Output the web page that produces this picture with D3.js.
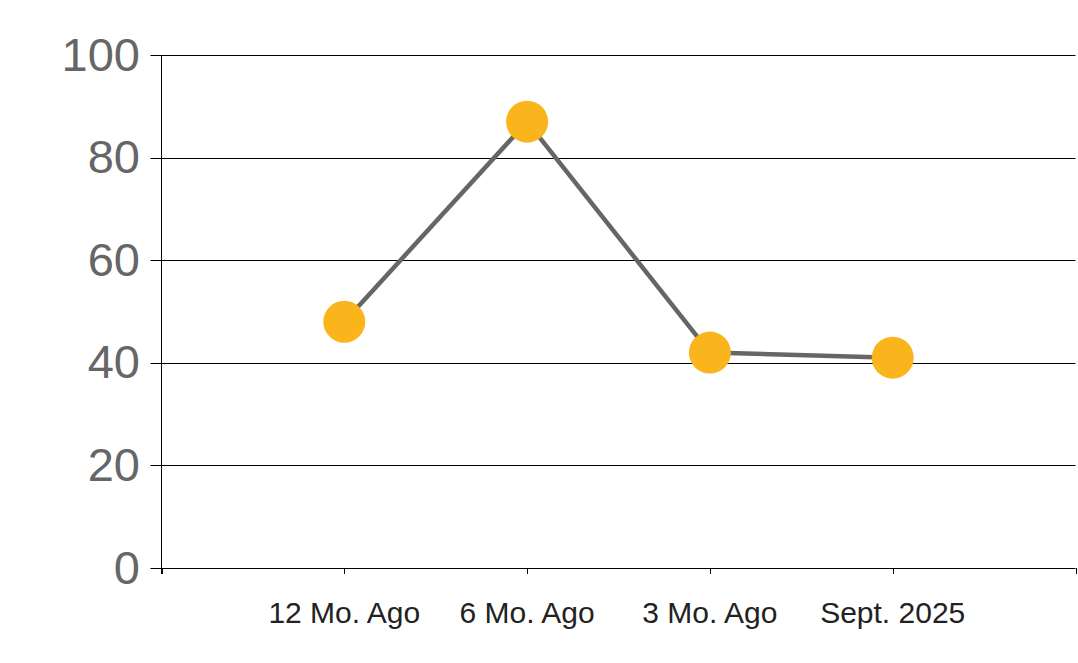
<!DOCTYPE html>
<html>
<head>
<meta charset="utf-8">
<script src="https://cdn.jsdelivr.net/npm/d3@7"></script>
<style>
  body { margin: 0; background: #fff; }
  text { font-family: "Liberation Sans", Arial, sans-serif; }
</style>
</head>
<body>
<script>
// data
var categories = ["12 Mo. Ago", "6 Mo. Ago", "3 Mo. Ago", "Sept. 2025"];
var values = [48, 87, 42, 41];
var yTicks = [0, 20, 40, 60, 80, 100];

var width = 1078, height = 663;
var plotLeft = 161.5, plotRight = 1075.5, plotTop = 55, plotBottom = 568;

var svg = d3.select("body").append("svg")
    .attr("width", width)
    .attr("height", height);

var x = d3.scalePoint()
    .domain(categories)
    .range([plotLeft, plotRight])
    .padding(1);

var y = d3.scaleLinear()
    .domain([0, 100])
    .range([plotBottom, plotTop]);

// gridlines
svg.append("g").selectAll("line")
    .data(yTicks)
    .enter().append("line")
    .attr("x1", plotLeft - 11)
    .attr("x2", plotRight)
    .attr("y1", function(d) { return Math.round(y(d)) + 0.5; })
    .attr("y2", function(d) { return Math.round(y(d)) + 0.5; })
    .attr("stroke", "#000")
    .attr("stroke-width", 1);

// y axis line
svg.append("line")
    .attr("x1", plotLeft).attr("x2", plotLeft)
    .attr("y1", plotTop).attr("y2", plotBottom + 6)
    .attr("stroke", "#000");

// y labels
svg.append("g").selectAll("text")
    .data(yTicks)
    .enter().append("text")
    .attr("x", 140)
    .attr("y", function(d) { return y(d); })
    .attr("dy", "0.33em")
    .attr("text-anchor", "end")
    .attr("font-size", 47)
    .attr("fill", "#666")
    .text(function(d) { return d; });

// x ticks: the two ends plus each category
var xTickPos = [plotLeft].concat(categories.map(function(c) { return x(c); }), [plotRight]);
svg.append("g").selectAll("line")
    .data(xTickPos)
    .enter().append("line")
    .attr("x1", function(d) { return Math.round(d) + 0.5; })
    .attr("x2", function(d) { return Math.round(d) + 0.5; })
    .attr("y1", plotBottom)
    .attr("y2", plotBottom + 6)
    .attr("stroke", "#000");

// x labels
svg.append("g").selectAll("text")
    .data(categories)
    .enter().append("text")
    .attr("x", function(d) { return x(d); })
    .attr("y", 623)
    .attr("text-anchor", "middle")
    .attr("font-size", 30)
    .attr("fill", "#222")
    .text(function(d) { return d; });

// line
var line = d3.line()
    .x(function(d, i) { return x(categories[i]); })
    .y(function(d) { return y(d); });

svg.append("path")
    .datum(values)
    .attr("d", line)
    .attr("fill", "none")
    .attr("stroke", "#666")
    .attr("stroke-width", 4.5);

// markers
svg.append("g").selectAll("circle")
    .data(values)
    .enter().append("circle")
    .attr("cx", function(d, i) { return x(categories[i]); })
    .attr("cy", function(d) { return y(d); })
    .attr("r", 21)
    .attr("fill", "#FBB51C");
</script>
</body>
</html>
